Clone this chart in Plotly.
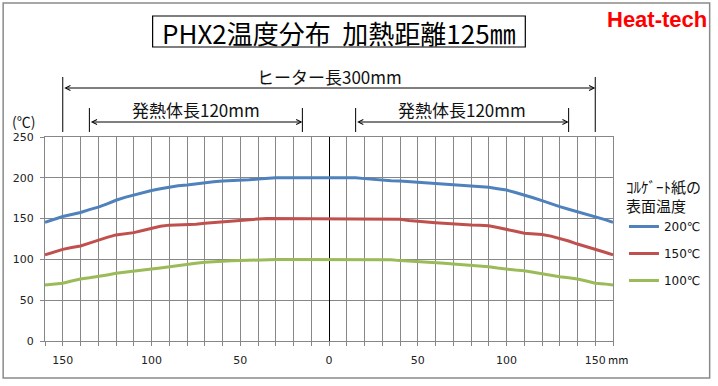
import plotly.graph_objects as go

# ---- data ----
positions = list(range(-160, 165, 5))
temp_200 = [145.5, 149, 152.5, 155, 157.5, 161, 164, 168, 172.5, 176, 179, 182, 184.5,
            186.5, 188.5, 190.3, 191.2, 192.7, 194, 195.2, 196, 196.3, 196.5, 197.5, 198.5,
            199.5, 200, 200, 200, 200, 200, 200, 200, 200, 200, 200, 199, 198, 197, 196.5,
            196, 195.2, 194.5, 194, 193.3, 192.7, 192, 191.2, 190.3, 189.5, 188.3, 186.7,
            185, 182, 179, 175.5, 172, 168, 164.7, 161.5, 158.5, 155.5, 152.5, 149, 145.5]
temp_150 = [105.5, 109, 112.3, 114.5, 116.4, 120, 123.8, 127, 130, 131.5, 132.8, 135.5, 138,
            140.5, 142, 142.2, 142.2, 143.2, 144.2, 145.2, 146.2, 147.2, 148.3, 149, 149.5,
            150, 150, 150, 150, 150, 150, 150, 150, 150, 150, 150, 150, 150, 150, 150,
            149.3, 147.8, 146.5, 145.8, 145, 144.2, 143.4, 142.8, 142.2, 142, 141.3, 139,
            137, 134.5, 132, 131.3, 130.6, 128.5, 125.8, 122.5, 118.8, 115.8, 112.7, 109, 105.5]
temp_100 = [68.6, 70, 70.7, 73.5, 76, 77.5, 78.8, 81, 83, 84.5, 86, 87, 88.2, 89.5, 91, 92.5,
            94.4, 95.4, 96.4, 97.2, 98, 98.3, 98.5, 99, 99.3, 99.7, 100, 100, 100, 100, 100,
            100, 100, 100, 100, 100, 100, 100, 100, 99.5, 98.5, 98, 97.6, 97, 96.4, 95.4,
            94.4, 93.7, 93, 92.5, 91, 89.5, 88, 87, 86, 84, 82, 80.5, 78.8, 77.5, 76, 73.5,
            70.7, 70, 68.6]
series_names = ["200℃", "150℃", "100℃"]
series_colors = ["#4F81BD", "#C0504D", "#9BBB59"]
x_tick_vals = list(range(-160, 170, 10))
x_tick_text = [str(abs(v)) if v % 50 == 0 else "" for v in x_tick_vals]
heater_ends = [-150, 150]
element_ends = [[-135, -15], [15, 135]]

JP = "Noto Sans CJK JP"
GRID = "#878787"

# pixel -> paper helpers (plot area: x 45..615, y 137..341)
def px(x):
    return (x - 45) / 570.0

def py(y):
    return (341 - y) / 204.0

fig = go.Figure()
for name, vals, col in zip(series_names, [temp_200, temp_150, temp_100], series_colors):
    fig.add_trace(go.Scatter(x=positions, y=vals, mode="lines", name=name,
                             legendgroup=name,
                             line=dict(color=col, width=3)))

fig.update_layout(
    width=718, height=386, autosize=False,
    margin=dict(l=45, r=103, t=137, b=45, pad=0),
    paper_bgcolor="white", plot_bgcolor="white",
    font=dict(family="DejaVu Sans", size=11, color="#222"),
    showlegend=True,
    legend=dict(x=px(626), y=py(173), xanchor="left", yanchor="top",
                title=dict(text="ｺﾙｹﾞｰﾄ紙の<br>表面温度", font=dict(family=JP, size=15, color="#111"),
                           side="top"),
                font=dict(family="DejaVu Sans", size=12, color="#111"),
                itemwidth=30, tracegroupgap=8, bgcolor="rgba(0,0,0,0)"),
)
fig.update_xaxes(range=[-160, 160], tickmode="array", tickvals=x_tick_vals, ticktext=x_tick_text,
                 showgrid=True, gridcolor=GRID, gridwidth=1,
                 showline=True, linecolor=GRID, linewidth=1, mirror=True,
                 ticks="outside", ticklen=4, tickcolor=GRID, ticklabelstandoff=5,
                 zeroline=True, zerolinecolor="black", zerolinewidth=1.2)
fig.update_yaxes(range=[0, 250], dtick=50, tick0=0,
                 showgrid=True, gridcolor=GRID, gridwidth=1,
                 showline=True, linecolor=GRID, linewidth=1, mirror=True,
                 ticks="outside", ticklen=4, tickcolor=GRID, ticklabelstandoff=4,
                 zeroline=False)

shapes = []
# outer frame
shapes.append(dict(type="rect", xref="paper", yref="paper", x0=px(3), x1=px(712), y0=py(378), y1=py(3),
                   line=dict(color="#8a8a8a", width=1.5)))
# title box
shapes.append(dict(type="rect", xref="paper", yref="paper", x0=px(153), x1=px(527), y0=py(47), y1=py(16),
                   line=dict(color="black", width=1.2)))
# dimension lines
for xv in heater_ends:
    shapes.append(dict(type="line", xref="x", yref="paper", x0=xv, x1=xv, y0=py(132), y1=py(77),
                       line=dict(color="black", width=1)))
for pair in element_ends:
    for xv in pair:
        shapes.append(dict(type="line", xref="x", yref="paper", x0=xv, x1=xv, y0=py(132), y1=py(108),
                           line=dict(color="black", width=1)))
fig.update_layout(shapes=shapes)

C = dict(xanchor="center", yanchor="middle")
ann = []
ann.append(dict(text="PHX2温度分布  加熱距離125㎜", xref="paper", yref="paper", x=px(340), y=py(32),
                showarrow=False, font=dict(family=JP, size=26, color="black"), **C))
ann.append(dict(text="<b>Heat-tech</b>", xref="paper", yref="paper", x=px(659), y=py(19),
                showarrow=False, font=dict(family="Liberation Sans Narrow, Liberation Sans", size=22,
                                           color="#ff0000"), **C))
# heater length arrow
ann.append(dict(text="", xref="x", yref="paper", x=heater_ends[1], y=py(88), axref="x", ayref="pixel",
                ax=heater_ends[0], ay=0, showarrow=True, arrowhead=5, startarrowhead=5,
                arrowside="end+start", arrowsize=1, startarrowsize=1, arrowwidth=1, arrowcolor="black"))
ann.append(dict(text="ヒーター長300mm", xref="x", yref="paper", x=0, y=py(76), showarrow=False,
                font=dict(family=JP, size=17, color="#111"), **C))
for pair in element_ends:
    ann.append(dict(text="", xref="x", yref="paper", x=pair[1], y=py(122), axref="x", ayref="pixel",
                    ax=pair[0], ay=0, showarrow=True, arrowhead=5, startarrowhead=5,
                    arrowside="end+start", arrowsize=1, startarrowsize=1, arrowwidth=1, arrowcolor="black"))
    ann.append(dict(text="発熱体長120mm", xref="x", yref="paper", x=(pair[0] + pair[1]) / 2, y=py(109),
                    showarrow=False, font=dict(family=JP, size=17, color="#111"), **C))
ann.append(dict(text="(℃)", xref="paper", yref="paper", x=px(23), y=py(121), showarrow=False,
                font=dict(family=JP, size=14, color="#111"), **C))
ann.append(dict(text="mm", xref="paper", yref="paper", x=px(620), y=py(359), showarrow=False,
                font=dict(family=JP, size=11, color="#111"), **C))
fig.update_layout(annotations=ann)

fig.write_html("out.html", config={"displayModeBar": False},
               post_script="document.body.style.margin='0';")
